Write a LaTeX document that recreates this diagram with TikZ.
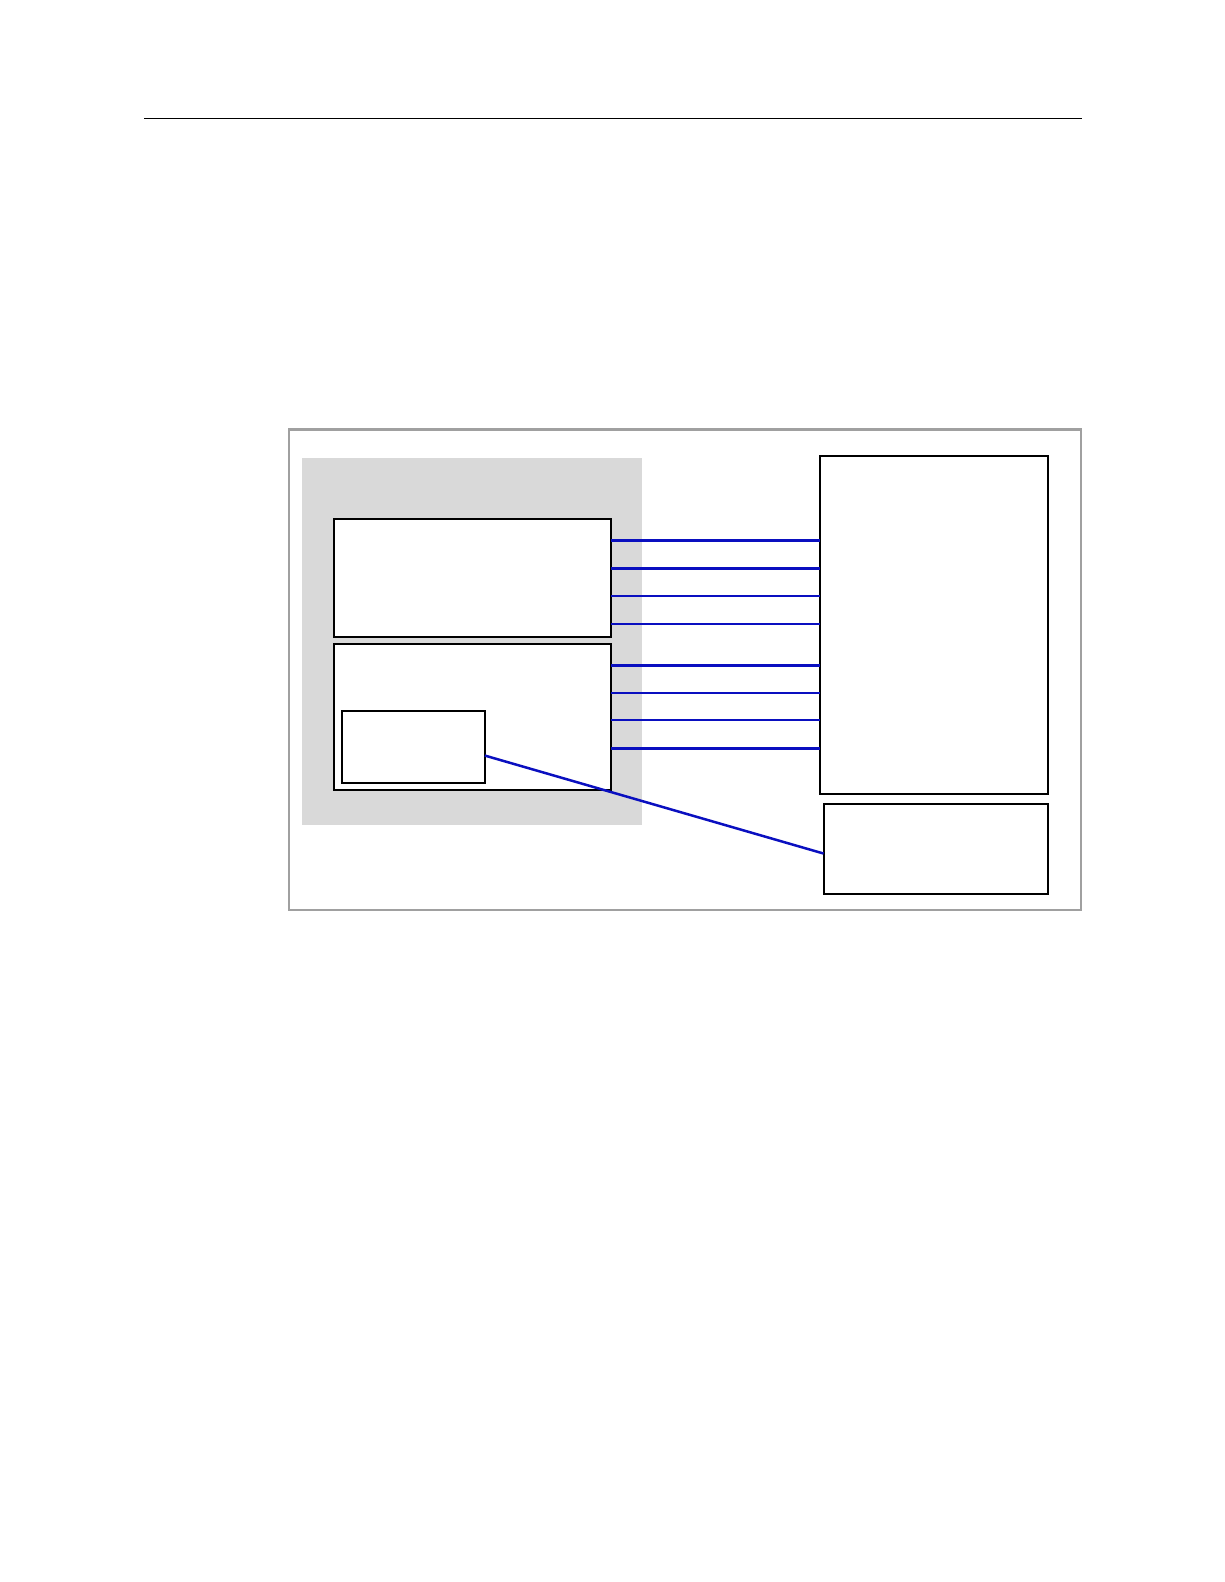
\documentclass[tikz,border=0pt]{standalone}
\usetikzlibrary{calc}
\definecolor{wire}{HTML}{0A0FC0}
\definecolor{shade}{HTML}{D9D9D9}
\definecolor{framegray}{HTML}{A0A0A0}
\tikzset{
  blk/.style={draw=black, line width=1pt, fill=white, inner sep=0pt, outer sep=0pt, rectangle},
  wirel/.style={draw=wire, line width=1.25pt},
}
\begin{document}
\begin{tikzpicture}[x=0.50505pt,y=-0.50505pt]
\useasboundingbox (0pt,0pt) rectangle (612pt,-791pt);
% top rule
\coordinate (rl) at (143,117);
\coordinate (rr) at (1071,117);
\draw[line width=0.65pt] (rl) -- (rr);
% outer frame
\node[draw=framegray, line width=1.3pt, inner sep=0pt, outer sep=0pt, minimum width=396pt, minimum height=240.4pt] (frame) at (678,663) {};
% gray area
\node[fill=shade, inner sep=0pt, outer sep=0pt, minimum width=170.2pt, minimum height=183.8pt] (gray) at (467.5,635) {};
% boxes
\node[blk, minimum width=138.4pt, minimum height=59.1pt] (A) at (468,572.5) {};
\node[blk, minimum width=138.4pt, minimum height=72.7pt] (B) at (468,710) {};
\node[blk, minimum width=71.2pt, minimum height=35.9pt] (I) at (409.5,739.5) {};
\node[blk, minimum width=114.2pt, minimum height=169.2pt] (R) at (924.5,618.5) {};
\node[blk, minimum width=112.3pt, minimum height=45pt] (S) at (926.5,840.5) {};
% connectors
\foreach \yy in {535,563,590,618} {
  \draw[wirel] (A.east |- 0,\yy) -- (R.west |- 0,\yy);
}
\foreach \yy in {659,686,713,741} {
  \draw[wirel] (B.east |- 0,\yy) -- (R.west |- 0,\yy);
}
\draw[wirel] (I.east |- 0,748) -- (S.west |- 0,845);
\end{tikzpicture}
\end{document}
